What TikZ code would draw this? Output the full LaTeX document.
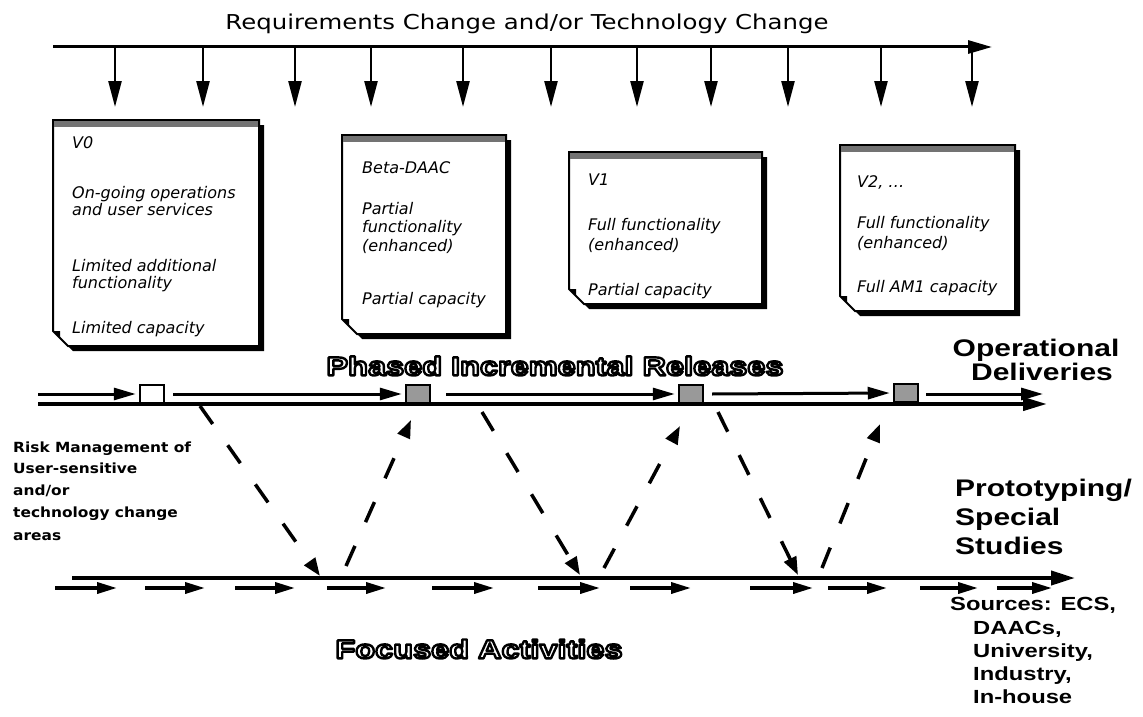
\documentclass[tikz,border=0pt]{standalone}
\usepackage{fontspec}
\usetikzlibrary{arrows.meta}
\newfontfamily\chicfont{DejaVu Sans}[FakeStretch=1.19]
\newfontfamily\chicbold{DejaVu Sans Bold}[FakeStretch=1.1]
\newfontfamily\genevait{DejaVu Sans Oblique}
\newfontfamily\helvbold{Liberation Sans Bold}[FakeStretch=1.25]

% outlined (hollow) glyphs: stroke-only text rendering mode
\newcommand\hollowglyphs[1]{\special{pdf:literal direct 1 Tr 2.4 w 1 j}#1\special{pdf:literal direct 0 Tr}}

\tikzset{
  titletxt/.style={font=\chicfont\fontsize{20.5}{23}\selectfont, inner sep=0pt, anchor=base},
  boxtxt/.style={font=\genevait\fontsize{16}{18}\selectfont, anchor=base west, inner sep=0pt},
  risktxt/.style={font=\chicbold\fontsize{14}{16}\selectfont, anchor=base west, inner sep=0pt},
  bigtxt/.style={font=\helvbold\fontsize{24}{26}\selectfont, inner sep=0pt, anchor=base},
  bigleft/.style={font=\helvbold\fontsize{24}{26}\selectfont, inner sep=0pt, anchor=base west},
  srctxt/.style={font=\helvbold\fontsize{19}{21}\selectfont, anchor=base west, inner sep=0pt},
  hollowtxt/.style={font=\helvbold\fontsize{26}{28}\selectfont, inner sep=0pt, text=black},
  toparr/.style={line width=3pt, -{Triangle[length=24pt,width=13pt]}},
  downarr/.style={line width=2.5pt, -{Triangle[length=26pt,width=13pt]}},
  relarr/.style={line width=3pt, shorten >=3pt, -{Triangle[length=22pt,width=12pt]}},
  relbase/.style={line width=4pt, -{Triangle[length=24pt,width=13pt]}},
  dasharr/.style={line width=3.5pt, dash pattern=on 22pt off 26pt, -{Triangle[length=18pt,width=13pt]}},
  basearr/.style={line width=4pt, -{Triangle[length=24pt,width=14pt]}},
  smallarr/.style={line width=3.5pt, -{Triangle[length=20pt,width=11pt]}},
  sqwhite/.style={draw, line width=2.5pt, fill=white, minimum width=24pt, minimum height=18pt, inner sep=0pt},
  sqgray/.style={sqwhite, fill=black!40},
}

% note box: left, top, right, bottom
\newcommand\notebox[4]{%
  \fill[black] ({#1+5},{#2+5}) -- ({#3+5},{#2+5}) -- ({#3+5},{#4+5}) -- ({#1+20},{#4+5}) -- ({#1+5},{#4-10}) -- cycle;
  \filldraw[fill=white, draw=black, line width=2pt] (#1,#2) -- (#3,#2) -- (#3,#4) -- ({#1+15},#4) -- (#1,{#4-15}) -- cycle;
  \fill[black!55] ({#1+1},{#2+1}) rectangle ({#3-1},{#2+7});
  \fill[black] (#1,{#4-15}) -- ({#1+7},{#4-15}) -- ({#1+7},{#4-8}) -- cycle;
}

\begin{document}
\begin{tikzpicture}[x=1pt,y=-1pt]
\fill[white] (0,0) rectangle (1143,717);
\useasboundingbox (0,0) rectangle (1143,717);

% ---- title and top timeline
\node[titletxt] (title) at (527,30) {Requirements Change and/or Technology Change};
\coordinate (tl) at (53,47);
\coordinate (tr) at (992,47);
\draw[toparr] (tl) -- (tr);
\foreach \x [count=\i] in {115,203,295,371,463,551,637,711,788,881,972}{
  \coordinate (da\i) at (\x,47);
  \coordinate (db\i) at (\x,107);
  \draw[downarr] (da\i) -- (db\i);
}

% ---- note boxes
\notebox{53}{120}{259}{346}
\notebox{342}{135}{506}{334}
\notebox{569}{152}{762}{304}
\notebox{840}{145}{1015}{311}

\node[boxtxt] (v0a) at (72,148) {V0};
\node[boxtxt] (v0b) at (72,198) {On-going operations};
\node[boxtxt] (v0c) at (72,215) {and user services};
\node[boxtxt] (v0d) at (72,271) {Limited additional};
\node[boxtxt] (v0e) at (72,288) {functionality};
\node[boxtxt] (v0f) at (72,333) {Limited capacity};

\node[boxtxt] (bda) at (362,173) {Beta-DAAC};
\node[boxtxt] (bdb) at (362,214) {Partial};
\node[boxtxt] (bdc) at (362,232) {functionality};
\node[boxtxt] (bdd) at (362,251) {(enhanced)};
\node[boxtxt] (bde) at (362,304) {Partial capacity};

\node[boxtxt] (v1a) at (588,185) {V1};
\node[boxtxt] (v1b) at (588,230) {Full functionality};
\node[boxtxt] (v1c) at (588,250) {(enhanced)};
\node[boxtxt] (v1d) at (588,295) {Partial capacity};

\node[boxtxt] (v2a) at (857,187) {V2, \ldots};
\node[boxtxt] (v2b) at (857,228) {Full functionality};
\node[boxtxt] (v2c) at (857,248) {(enhanced)};
\node[boxtxt] (v2d) at (857,292) {Full AM1 capacity};

% ---- phased incremental releases
\node[hollowtxt] (phased) at (555,366) {\hollowglyphs{Phased Incremental Releases}};
\node[bigtxt] (oper) at (1036,356) {Operational};
\node[bigtxt] (deliv) at (1042,380) {Deliveries};

\coordinate (lb0) at (38,404);
\coordinate (lb1) at (1047,404);
\draw[relbase] (lb0) -- (lb1);

\node[sqwhite] (s1) at (152,394) {};
\node[sqgray] (s2) at (418,394) {};
\node[sqgray] (s3) at (691,394) {};
\node[sqgray] (s4) at (906,393) {};

\coordinate (u0) at (38,394);
\coordinate (u1) at (173,394);
\coordinate (u2) at (446,394);
\coordinate (u3) at (712,394);
\coordinate (u4) at (926,394);
\coordinate (u5) at (1043,394);
\draw[relarr] (u0) -- (s1.west);
\draw[relarr] (u1) -- (s2.west);
\draw[relarr] (u2) -- (s3.west);
\draw[relarr] (u3) -- (s4.west);
\draw[relarr, shorten >=0pt] (u4) -- (u5);

% ---- risk text
\node[risktxt] (r1) at (13,452) {Risk Management of};
\node[risktxt] (r2) at (13,473) {User-sensitive};
\node[risktxt] (r3) at (13,495) {and/or};
\node[risktxt] (r4) at (13,517) {technology change};
\node[risktxt] (r5) at (13,540) {areas};

% ---- dashed transfer arrows
\coordinate (d1a) at (200,406); \coordinate (d1b) at (320,576);
\coordinate (p1a) at (346,566); \coordinate (p1b) at (411,420);
\coordinate (d2a) at (482,412); \coordinate (d2b) at (580,575);
\coordinate (p2a) at (604,568); \coordinate (p2b) at (680,426);
\coordinate (d3a) at (718,412); \coordinate (d3b) at (798,575);
\coordinate (p3a) at (822,568); \coordinate (p3b) at (880,424);
\draw[dasharr] (d1a) -- (d1b);
\draw[dasharr] (p1a) -- (p1b);
\draw[dasharr] (d2a) -- (d2b);
\draw[dasharr] (p2a) -- (p2b);
\draw[dasharr] (d3a) -- (d3b);
\draw[dasharr] (p3a) -- (p3b);

% ---- prototyping line
\node[bigleft] (proto1) at (955,496) {Prototyping/};
\node[bigleft] (proto2) at (955,525) {Special};
\node[bigleft] (proto3) at (955,554) {Studies};

\coordinate (bl0) at (72,578);
\coordinate (bl1) at (1075,578);
\draw[basearr] (bl0) -- (bl1);
\foreach \a/\b [count=\i] in {55/117,145/205,235/295,327/386,432/494,538/600,630/691,750/813,828/887,920/978,997/1052}{
  \coordinate (sa\i) at (\a,588);
  \coordinate (sb\i) at (\b,588);
  \draw[smallarr] (sa\i) -- (sb\i);
}

\node[hollowtxt] (focused) at (479,649) {\hollowglyphs{Focused Activities}};

\node[srctxt] (src1) at (950,610) {Sources: ECS,};
\node[srctxt] (src2) at (973,634) {DAACs,};
\node[srctxt] (src3) at (973,657) {University,};
\node[srctxt] (src4) at (973,680) {Industry,};
\node[srctxt] (src5) at (973,703) {In-house};
\end{tikzpicture}
\end{document}
